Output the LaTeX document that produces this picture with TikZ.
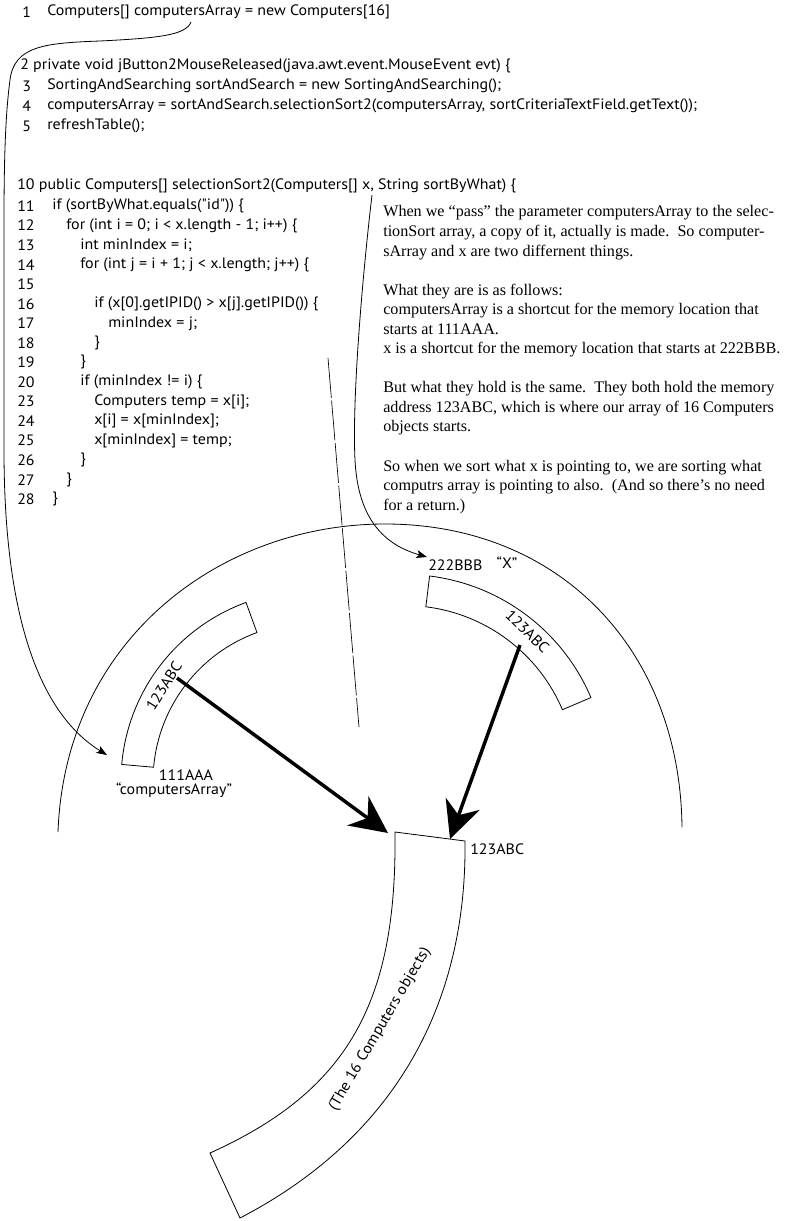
\documentclass[tikz,border=0pt]{standalone}
\usepackage{fontspec}
\setmainfont{Liberation Serif}
\newfontfamily\codefont[FakeStretch=1.06]{PT Sans}
\usetikzlibrary{arrows.meta, calc}

\begin{document}
\begin{tikzpicture}[
    x=0.75pt, y=-0.75pt,
    code/.style={anchor=west, inner sep=0pt, font=\codefont\fontsize{11.3}{13}\selectfont},
    lbl/.style={inner sep=0pt, font=\codefont\fontsize{11.3}{13}\selectfont},
    memcell/.style={draw, line width=0.6pt},
    link/.style={line width=0.6pt, -{Stealth[length=8pt, width=6pt, inset=2pt]}},
    pointer/.style={line width=2.6pt, -{Stealth[length=28pt, width=27pt, inset=9pt]}}
]
\useasboundingbox (0,0) rectangle (794,1221);

% Caller code
\node[code] (n1) at (22,12) {1};
\node[code] (decl) at (47,12) {Computers[] computersArray = new Computers[16]};
\node[code] (call) at (20,66) {2 private void jButton2MouseReleased(java.awt.event.MouseEvent evt) \{};
\node[code] (n3) at (22,86) {3};
\node[code] (c3) at (47,86) {SortingAndSearching sortAndSearch = new SortingAndSearching();};
\node[code] (n4) at (22,106) {4};
\node[code] (c4) at (47,106) {computersArray = sortAndSearch.selectionSort2(computersArray, sortCriteriaTextField.getText());};
\node[code] (n5) at (22,126) {5};
\node[code] (c5) at (47,126) {refreshTable();};

% Sort method
\node[code] (sig) at (17,186) {10 public Computers[] selectionSort2(Computers[] x, String sortByWhat) \{};
\foreach \num/\lvl/\txt [count=\k from 0] in {
    11/0/{if (sortByWhat.equals("id")) \{},
    12/1/{for (int i = 0; i < x.length - 1; i++) \{},
    13/2/{int minIndex = i;},
    14/2/{for (int j = i + 1; j < x.length; j++) \{},
    15/2/{},
    16/3/{if (x[0].getIPID() > x[j].getIPID()) \{},
    17/4/{minIndex = j;},
    18/3/{\}},
    19/2/{\}},
    20/2/{if (minIndex != i) \{},
    23/3/{Computers temp = x[i];},
    24/3/{x[i] = x[minIndex];},
    25/3/{x[minIndex] = temp;},
    26/2/{\}},
    27/1/{\}},
    28/0/{\}}}
{
    \node[code] (num\num) at (17,{206+19.55*\k}) {\num};
    \node[code] (line\num) at ({52+14*\lvl},{206+19.55*\k}) {\txt};
}

% Explanation
\node[anchor=north west, inner sep=0pt, align=left, font=\fontsize{12.1}{14.66}\selectfont] (note) at (383,205.5) {When we “pass” the parameter computersArray to the selec-\\
tionSort array, a copy of it, actually is made.\ \ So computer-\\
sArray and x are two differnent things.\\[14.66pt]
What they are is as follows:\\
computersArray is a shortcut for the memory location that\\
starts at 111AAA.\\
x is a shortcut for the memory location that starts at 222BBB.\\[14.66pt]
But what they hold is the same.\ \ They both hold the memory\\
address 123ABC, which is where our array of 16 Computers\\
objects starts.\\[14.66pt]
So when we sort what x is pointing to, we are sorting what\\
computrs array is pointing to also.\ \ (And so there’s no need\\
for a return.)};

% Memory
\draw[line width=0.6pt] (58,832) .. controls (65,640) and (220,524) .. (385,524) .. controls (560,524) and (680,650) .. (682,827);
\coordinate (dashtop) at (328,358);
\coordinate (dashbot) at (359,727);
\draw[line width=0.5pt, dash pattern=on 30pt off 2pt] (dashtop) -- (dashbot);

\coordinate (cA) at (311,781);
\draw[memcell] ($(cA)+(-175:190)$) arc[start angle=-175, end angle=-110, radius=190]
    -- ($(cA)+(-110:158)$) arc[start angle=-110, end angle=-175, radius=158] -- cycle;
\node[lbl, rotate=58] (valA) at (164,686) {123ABC};
\node[lbl] (addrA) at (186,775) {111AAA};
\node[lbl] (nameA) at (174,790) {“computersArray”};

\coordinate (cB) at (405,776.5);
\draw[memcell] ($(cB)+(-83:202)$) arc[start angle=-83, end angle=-23, radius=202]
    -- ($(cB)+(-23:171)$) arc[start angle=-23, end angle=-83, radius=171] -- cycle;
\node[lbl, rotate=-44] (valB) at (527.5,631.7) {123ABC};
\node[lbl, anchor=west] (addrB) at (428,565) {222BBB};
\node[lbl] (nameB) at (507,563) {“X”};

\draw[memcell] (395,832) .. controls (397,1000) and (350,1090) .. (210,1153) -- (240,1218)
    .. controls (390,1140) and (467,1010) .. (465,841) -- cycle;
\node[lbl, rotate=59.6] (objs) at (380,1029) {(The 16 Computers objects)};
\node[lbl, anchor=west] (addrObj) at (470,849) {123ABC};

% Links
\coordinate (declvar) at (191,22);
\coordinate (cellA) at (107,755);
\draw[link] (declvar) .. controls (186,35) and (160,38) .. (100,41)
    .. controls (45,43) and (14,46) .. (10,80)
    .. controls (6,110) and (4,150) .. (4,220) -- (4,450)
    .. controls (4,640) and (50,720) .. (cellA);
\coordinate (paramx) at (372,195);
\coordinate (cellB) at (427,557);
\draw[link] (paramx) .. controls (362,280) and (352,400) .. (355,460)
    .. controls (358,520) and (385,545) .. (cellB);

\coordinate (ptrA) at (177,678);
\coordinate (objA) at (388,833);
\coordinate (ptrB) at (520,645);
\coordinate (objB) at (450,839);
\draw[pointer] (ptrA) -- (objA);
\draw[pointer] (ptrB) -- (objB);

\end{tikzpicture}
\end{document}
